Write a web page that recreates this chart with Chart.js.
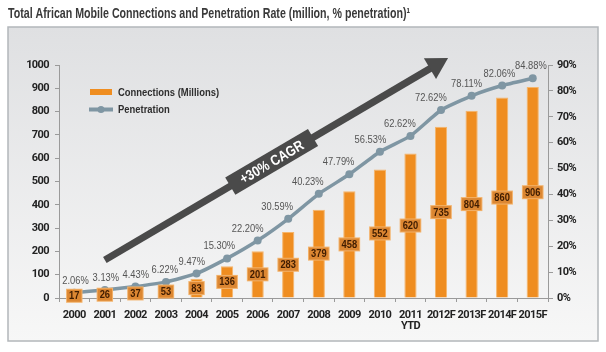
<!DOCTYPE html>
<html><head><meta charset="utf-8">
<script src="https://cdn.jsdelivr.net/npm/chart.js@4.4.0/dist/chart.umd.min.js"></script>
<style>html,body{margin:0;padding:0;background:#fff;overflow:hidden}#wrap{position:relative;width:606px;height:352px}</style>
</head><body><div id="wrap"><canvas id="c" width="606" height="352"></canvas></div>
<script>
const categories = ['2000','2001','2002','2003','2004','2005','2006','2007','2008','2009','2010',['2011','YTD'],'2012F','2013F','2014F','2015F'];
const connections = [17,26,37,53,83,136,201,283,379,458,552,620,735,804,860,906];
const penetration = [2.06,3.13,4.43,6.22,9.47,15.30,22.20,30.59,40.23,47.79,56.53,62.62,72.62,78.11,82.06,84.88];
const seriesNames = ['Connections (Millions)','Penetration'];
const titleText = 'Total African Mobile Connections and Penetration Rate (million, % penetration)\u00B9';
const cagrText = '+30% CAGR';

const TICKFONT = "Roboto,'Liberation Sans',sans-serif";
const TXT = "'Liberation Sans',Arial,sans-serif";
const ORANGE = '#ef8d20';
const GREY = '#7f96a3';
const DARK = '#4a4a4a';
Chart.defaults.font.family = TICKFONT;

function txt(ctx, s, x, y, font, color, align, sx) {
  ctx.save();
  ctx.letterSpacing = '0px';
  ctx.font = font; ctx.fillStyle = color;
  ctx.textBaseline = 'middle'; ctx.textAlign = align || 'center';
  ctx.translate(x, y); ctx.scale(sx || 0.82, 1);
  ctx.fillText(s, 0, 0);
  ctx.restore();
}
function tw(ctx, s, font, sx) {
  ctx.save(); ctx.letterSpacing = '0px'; ctx.font = font;
  const w = ctx.measureText(s).width * (sx || 0.82); ctx.restore(); return w;
}

const deco = {
  id: 'deco',
  beforeDraw(chart) {
    const ctx = chart.ctx;
    ctx.save();
    ctx.fillStyle = '#fff';
    ctx.fillRect(0, 0, chart.width, chart.height);
    const g = ctx.createLinearGradient(0, 27, 0, 341);
    g.addColorStop(0, '#dfe0e2');
    g.addColorStop(1, '#f7f7f7');
    ctx.fillStyle = g;
    ctx.fillRect(8, 27, 590, 314);
    ctx.strokeStyle = '#b3b7ba';
    ctx.lineWidth = 1.5;
    ctx.strokeRect(8, 27, 590, 314);
    ctx.restore();
    const f = 'bold 14px ' + TXT;
    const w = tw(ctx, titleText, f, 1);
    txt(ctx, titleText, 8, 14, f, '#3a3a3a', 'left', 402 / w);
    ctx.letterSpacing = '-0.6px';
  },
  beforeDatasetsDraw(chart) {
    const ctx = chart.ctx, x = chart.scales.x, y = chart.scales.y;
    const x0 = x.getPixelForValue(1.0), y0 = y.getPixelForValue(163);
    const x1 = x.getPixelForValue(12.23), y1 = y.getPixelForValue(1030);
    const ang = Math.atan2(y1 - y0, x1 - x0);
    const len = Math.hypot(x1 - x0, y1 - y0);
    ctx.save();
    ctx.translate(x0, y0);
    ctx.rotate(ang);
    ctx.fillStyle = DARK;
    ctx.fillRect(0, -3.5, len - 18, 7);
    ctx.beginPath();
    ctx.moveTo(len, 0);
    ctx.lineTo(len - 21, -12);
    ctx.lineTo(len - 21, 12);
    ctx.closePath();
    ctx.fill();
    const c = len * 0.486;
    ctx.fillRect(c - 48, -10, 96, 20);
    txt(ctx, cagrText, c, 1, 'bold 14.5px ' + TXT, '#fff', 'center', 0.85);
    ctx.restore();
  },
  afterDatasetsDraw(chart) {
    const ctx = chart.ctx;
    const barMeta = chart.getDatasetMeta(0), lineMeta = chart.getDatasetMeta(1);
    const bf = 'bold 11px ' + TXT;
    barMeta.data.forEach((bar, i) => {
      const t = String(connections[i]);
      const w = tw(ctx, t, bf, 0.85) + 4;
      const cy = (bar.y + bar.base) / 2;
      ctx.save();
      ctx.fillStyle = '#f3b26a';
      ctx.fillRect(bar.x - w / 2 - 1, cy - 7, w + 2, 14);
      ctx.fillStyle = '#dc8732';
      ctx.fillRect(bar.x - w / 2, cy - 6, w, 12);
      ctx.restore();
      txt(ctx, t, bar.x, cy + 0.5, bf, '#3f1c00', 'center', 0.85);
    });
    const pts = lineMeta.data;
    pts.forEach((p, i) => {
      const a = pts[Math.max(0, i - 1)], b = pts[Math.min(pts.length - 1, i + 1)];
      const slope = Math.abs((b.y - a.y) / (b.x - a.x));
      const dx = Math.max(-11, 3 - 20 * slope);
      txt(ctx, penetration[i].toFixed(2) + '%', p.x + dx, p.y - 12, '11px ' + TXT, '#555', 'center', 0.85);
    });
    ctx.save();
    ctx.fillStyle = ORANGE;
    ctx.fillRect(90, 89, 22, 6);
    ctx.strokeStyle = GREY;
    ctx.lineWidth = 4;
    ctx.beginPath(); ctx.moveTo(89, 109.5); ctx.lineTo(113, 109.5); ctx.stroke();
    ctx.fillStyle = GREY;
    ctx.beginPath(); ctx.arc(101, 109.5, 3.5, 0, Math.PI * 2); ctx.fill();
    ctx.restore();
    txt(ctx, seriesNames[0], 118, 92.5, 'bold 11.5px ' + TXT, '#2e2e2e', 'left', 0.82);
    txt(ctx, seriesNames[1], 118, 109.5, 'bold 11.5px ' + TXT, '#2e2e2e', 'left', 0.82);
  }
};

new Chart(document.getElementById('c'), {
  data: {
    labels: categories,
    datasets: [
      { type: 'bar', label: seriesNames[0], data: connections, yAxisID: 'y', backgroundColor: ORANGE,
        borderColor: '#f6b56a', borderWidth: 1, categoryPercentage: 1, barPercentage: 0.4, order: 2 },
      { type: 'line', label: seriesNames[1], data: penetration, yAxisID: 'y1', borderColor: GREY, backgroundColor: GREY,
        borderWidth: 3.5, pointRadius: 4, pointBackgroundColor: GREY, pointBorderWidth: 0, tension: 0.15, order: 1 }
    ]
  },
  options: {
    responsive: false, animation: false,
    layout: { padding: { top: 65, left: 0, right: 0, bottom: 0 } },
    plugins: { legend: { display: false }, tooltip: { enabled: false }, title: { display: false } },
    scales: {
      x: {
        offset: true,
        grid: { offset: true, drawOnChartArea: false, tickLength: 4, color: '#9a9a9a' },
        border: { color: '#9a9a9a' },
        ticks: { font: { size: 11, weight: 'bold', lineHeight: 1.0 }, color: '#222', padding: 8, maxRotation: 0, autoSkip: false },
        afterFit(s) { s.height = 54; }
      },
      y: {
        position: 'left', min: 0, max: 1000,
        grid: { drawOnChartArea: false, tickLength: 4, color: '#9a9a9a' },
        border: { color: '#9a9a9a' },
        ticks: { stepSize: 100, font: { size: 11, weight: 'bold' }, color: '#222', padding: 6, callback: v => String(v) },
        afterFit(s) { s.width = 59; }
      },
      y1: {
        position: 'right', min: 0, max: 90,
        grid: { drawOnChartArea: false, tickLength: 5, color: '#9a9a9a' },
        border: { color: '#9a9a9a' },
        ticks: { stepSize: 10, font: { size: 11, weight: 'bold' }, color: '#222', padding: 4, callback: v => v + '%' },
        afterFit(s) { s.width = 58; }
      }
    }
  },
  plugins: [deco]
});
</script></body></html>
